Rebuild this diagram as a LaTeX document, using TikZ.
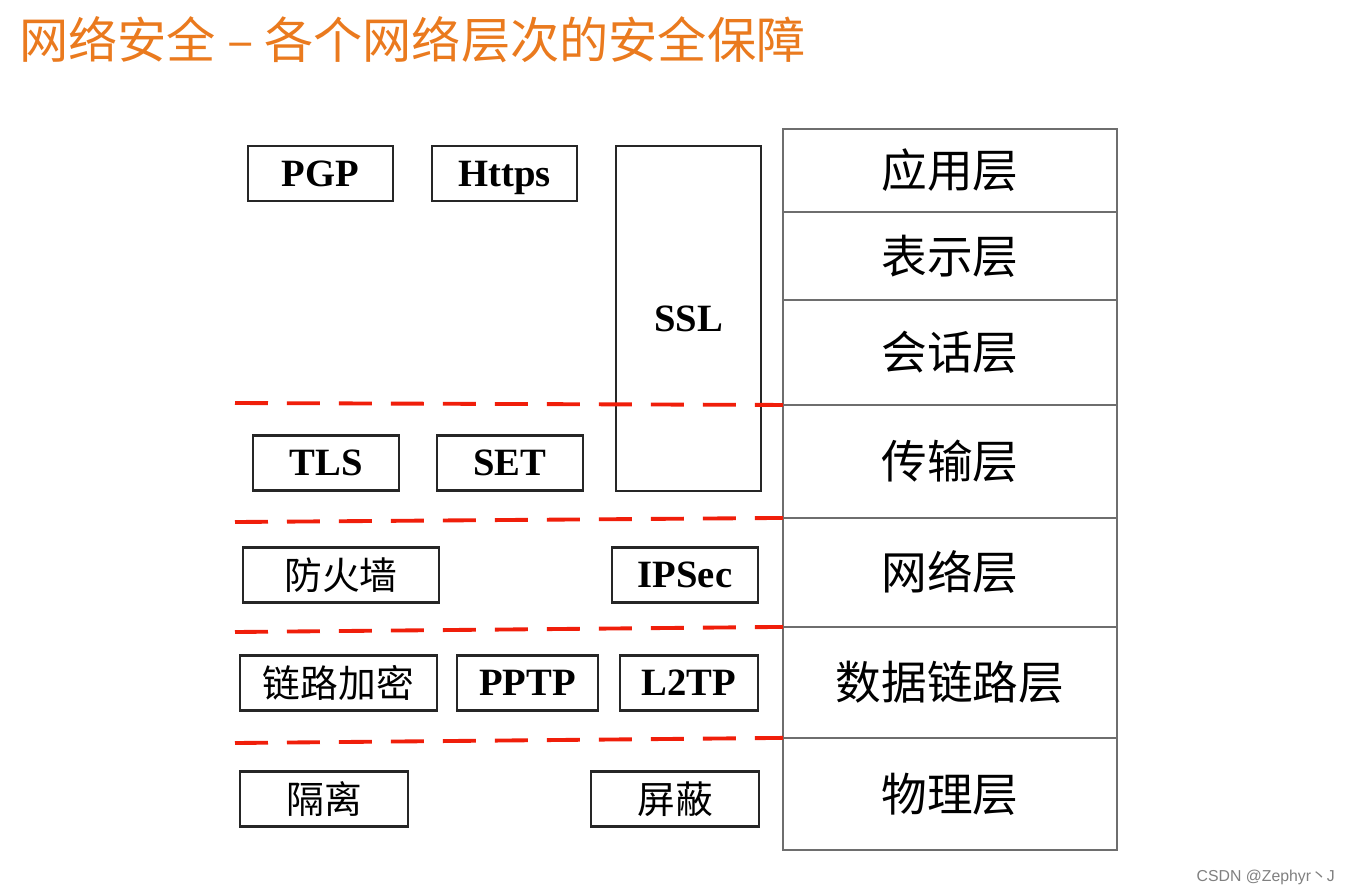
\documentclass[tikz,border=0pt]{standalone}
\usepackage{fontspec}
\setmainfont{Liberation Serif}
\newfontfamily\cjk{Noto Sans CJK SC}
\newfontfamily\wmfont{Liberation Sans}
\usetikzlibrary{positioning}
\definecolor{title_orange}{HTML}{EA7A1E}
\definecolor{dash_red}{HTML}{F01E0A}
\definecolor{layer_gray}{HTML}{6E6E6E}

\begin{document}
\begin{tikzpicture}[x=0.02cm,y=-0.02cm,
    proto/.style={draw=black!85, line width=1.3pt, minimum height=1.1cm, inner sep=0pt,
        text height=14.6pt, text depth=0pt, font=\bfseries\fontsize{22}{22}\selectfont},
    protocn/.style={proto, text height=, text depth=, font=\cjk\fontsize{21.5}{21.5}\selectfont},
    osilayer/.style={draw=layer_gray, line width=0.9pt, minimum width=6.68cm, inner sep=0pt,
        outer sep=0pt, font=\cjk\fontsize{26}{26}\selectfont},
    redsep/.style={dash_red, line width=2.2pt, dash pattern=on 0.66cm off 0.38cm}]

    % fond et cadre de l'image
    \fill[white] (0,0) rectangle (1356,894);

    % titre
    \node[anchor=west, text=title_orange, font=\cjk\fontsize{28}{28}\selectfont] (title) at (13,40)
        {网络安全 – 各个网络层次的安全保障};

    % pile des couches OSI
    \node[osilayer, minimum height=1.66cm] (app) at (950,170.5) {应用层};
    \node[osilayer, minimum height=1.76cm, below=0pt of app] (pres) {表示层};
    \node[osilayer, minimum height=2.10cm, below=0pt of pres] (sess) {会话层};
    \node[osilayer, minimum height=2.26cm, below=0pt of sess] (trans) {传输层};
    \node[osilayer, minimum height=2.18cm, below=0pt of trans] (net) {网络层};
    \node[osilayer, minimum height=2.22cm, below=0pt of net] (link) {数据链路层};
    \node[osilayer, minimum height=2.24cm, below=0pt of link] (phys) {物理层};

    % protocoles : couches hautes
    \node[proto, minimum width=2.9cm] (pgp) at (320.5,173.5) {PGP};
    \node[proto, minimum width=2.9cm] (https) at (504.5,173.5) {Https};
    \node[proto, minimum width=2.9cm, minimum height=6.9cm] (ssl) at (688.5,318.5) {SSL};

    % protocoles : transport
    \node[proto, minimum width=2.92cm] (tls) at (326,463) {TLS};
    \node[proto, minimum width=2.92cm] (set) at (510,463) {SET};

    % protocoles : réseau
    \node[protocn, minimum width=3.92cm] (fw) at (341,575) {防火墙};
    \node[proto, minimum width=2.92cm] (ipsec) at (685,575) {IPSec};

    % protocoles : liaison
    \node[protocn, minimum width=3.94cm] (linkenc) at (338.5,683) {链路加密};
    \node[proto, minimum width=2.82cm] (pptp) at (527.5,683) {PPTP};
    \node[proto, minimum width=2.76cm] (ltwotp) at (689,683) {L2TP};

    % protocoles : physique
    \node[protocn, minimum width=3.36cm] (iso) at (324,799) {隔离};
    \node[protocn, minimum width=3.36cm] (shield) at (675,799) {屏蔽};

    % séparations en pointillés rouges
    \draw[redsep] (235,403) -- (trans.north west);
    \draw[redsep] (235,522) -- (net.north west);
    \draw[redsep] (235,632) -- (link.north west);
    \draw[redsep] (235,743) -- (phys.north west);

    % filigrane
    \node[anchor=east, text=black!50, font=\wmfont\fontsize{9}{9}\selectfont] (mark) at (1341,877)
        {CSDN @Zephyr{\cjk 丶}J};
\end{tikzpicture}
\end{document}
